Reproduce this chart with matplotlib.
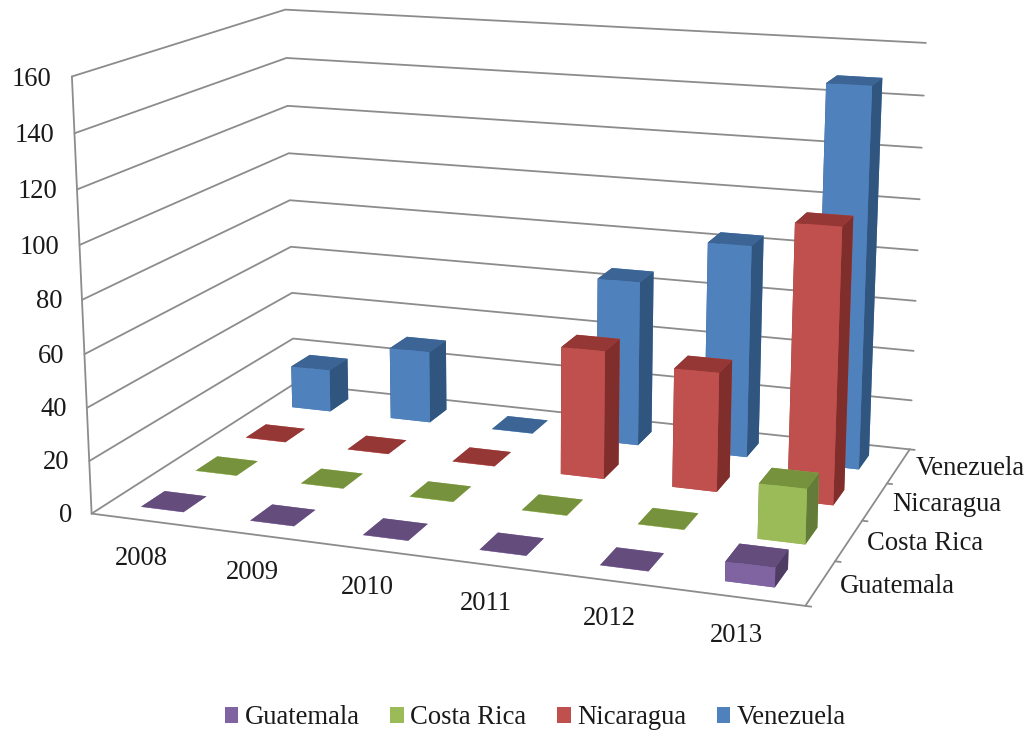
import numpy as np
import matplotlib
matplotlib.use("Agg")
import matplotlib.pyplot as plt
from matplotlib.patches import Patch
from mpl_toolkits.mplot3d import proj3d

# Chart data
years = ["2008", "2009", "2010", "2011", "2012", "2013"]
countries = ["Guatemala", "Costa Rica", "Nicaragua", "Venezuela"]
guatemala = [0.1, 0.1, 0.1, 0.1, 0.1, 7]
costa_rica = [0.1, 0.1, 0.1, 0.1, 0.1, 20.5]
nicaragua = [0.1, 0.1, 0.1, 50, 46, 104.5]
venezuela = [17.5, 29.5, 0.1, 66, 84, 148]
z_ticks = [0, 20, 40, 60, 80, 100, 120, 140, 160]

series = [guatemala, costa_rica, nicaragua, venezuela]
# Face colours: front, top, side
face_colors = [
    ("#8064A2", "#644C7D", "#4F3C63"),
    ("#9BBB59", "#76923C", "#637C39"),
    ("#C0504D", "#953735", "#7F2E2C"),
    ("#4F81BD", "#3C6494", "#30557F"),
]
GRID = "#8C8C8C"
TEXT = "#1A1A1A"
BAR_W, BAR_D = 0.39, 0.42

FW, FH = 1033, 732
plt.rcParams['font.family'] = ['Liberation Serif', 'DejaVu Serif']
plt.rcParams['font.size'] = 19.2

fig = plt.figure(figsize=(FW / 100, FH / 100), dpi=100)
SIDE = 933.4
ax = fig.add_axes([36.7 / FW, -21.46 / FH, SIDE / FW, SIDE / FH],
                  projection='3d', computed_zorder=False)
ax.set_axis_off()
ax.patch.set_visible(False)
ax.set_xticks([])
ax.set_yticks([])
ax.set_zticks([])
ax.set_xlim(0, 6, view_margin=0)
ax.set_ylim(0, 4, view_margin=0)
ax.set_zlim(0, 160, view_margin=0)
ax.view_init(14.151, -70.069, 0.056)
ax.set_box_aspect((1, 0.6583, 0.6060))
ax.set_proj_type('persp', focal_length=0.4930)

nx, ny = len(years), len(countries)
line_kw = dict(color=GRID, lw=1.3, zorder=1, solid_capstyle='round')

# Gridlines on the left and back walls
for z in z_ticks:
    ax.plot([0, 0, nx], [0, ny, ny], [z, z, z], **line_kw)
# Floor outline and axis edges
ax.plot([0, 0], [0, 0], [0, z_ticks[-1]], **line_kw)
ax.plot([0, nx, nx], [0, 0, ny], [0, 0, 0], **line_kw)
for j in range(ny + 1):
    ax.plot([nx, nx + 0.045], [j, j], [0, 0], **line_kw)

# Bars, painted from the back row to the front row
order = 2
for j in reversed(range(ny)):
    front, top, side = face_colors[j]
    for i in range(nx):
        ax.bar3d(i + 0.5 - BAR_W / 2, j + 0.5 - BAR_D / 2, 0,
                 BAR_W, BAR_D, series[j][i],
                 color=[front, top, front, front, side, side],
                 shade=False, zorder=order)
        order += 1

view = ax.get_proj()


def label(x, y, z, s, dx, dy, ha):
    """Write a label at a 3D position, displaced by a few pixels on screen."""
    u, v, _ = proj3d.proj_transform(x, y, z, view)
    ax.annotate(s, xy=(float(u), float(v)), xycoords='data',
                xytext=(dx, dy), textcoords='offset pixels',
                ha=ha, va='center', color=TEXT, zorder=100,
                annotation_clip=False)


# Axis labels
for z in z_ticks:
    label(-0.18, 0, z, str(z), 0, -4, 'right')
for i, y in enumerate(years):
    label(i + 0.5, 0, 0, y, -4, -38, 'center')
for j, c in enumerate(countries):
    label(nx + 0.15, j + 0.5, 0, c, 0, -1, 'left')

handles = [Patch(facecolor=fc[0], label=c) for fc, c in zip(face_colors, countries)]
fig.legend(handles=handles, loc='center', bbox_to_anchor=(535.5 / FW, 1 - 718 / FH),
           ncol=4, frameon=False, handlelength=0.5, handleheight=0.5,
           handletextpad=0.25, columnspacing=1.15, labelcolor=TEXT)

fig.savefig('out.png', dpi=100)
